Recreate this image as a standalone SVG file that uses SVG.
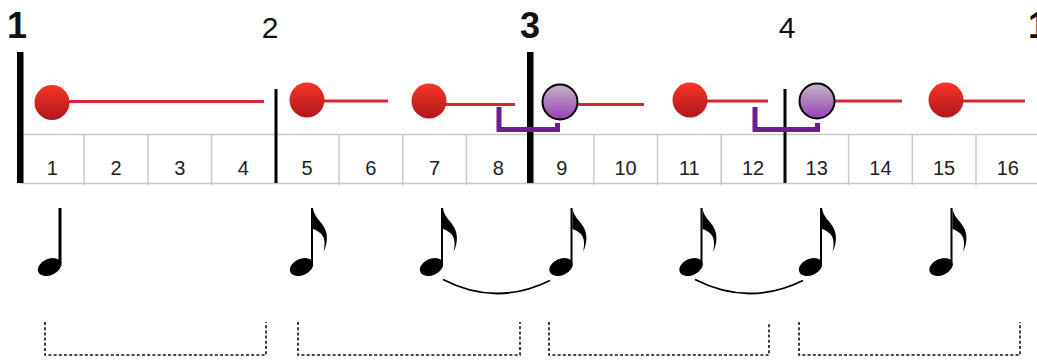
<svg xmlns="http://www.w3.org/2000/svg" xmlns:xlink="http://www.w3.org/1999/xlink" width="1037" height="361" viewBox="0 0 1037 361">
<style>
.grid{stroke:#c8c8c8;stroke-width:1.5;fill:none}
.num{font-family:"Liberation Sans",Arial,sans-serif;font-size:20px;fill:#222;text-anchor:middle}
.bar{font-family:"Liberation Sans",Arial,sans-serif;fill:#111;text-anchor:middle}
.big{font-size:36px;font-weight:bold}
.reg{font-size:30px}
.dur{stroke:#d42733;stroke-width:3;fill:none}
.tie{stroke:#6b1f8c;stroke-width:5;fill:none}
.slur{stroke:#000;stroke-width:1.8;fill:none}
.dash{stroke:#111;stroke-width:1.6;fill:none;stroke-dasharray:3 2.2}
</style>
<defs>
<linearGradient id="gr" x1="0" y1="0" x2="0" y2="1">
<stop offset="0" stop-color="#f73526"/><stop offset="1" stop-color="#b0161c"/>
</linearGradient>
<linearGradient id="gp" x1="0" y1="0" x2="0" y2="1">
<stop offset="0" stop-color="#c4b7c7"/><stop offset="1" stop-color="#9840b6"/>
</linearGradient>
<g id="eighth">
<ellipse cx="-11.5" cy="59" rx="12.2" ry="8.2" transform="rotate(-24 -11.5 59)" fill="#000"/>
<rect x="-2" y="0" width="2" height="58" fill="#000"/>
<path d="M0 0 C1 9 7 12 11 19 C15 26 15 35 10.5 44 C12.5 36 12 28 6.5 24.5 C4 22.5 2 21.5 0 21 Z" fill="#000"/>
</g>
</defs>
<rect width="1037" height="361" fill="#fff"/>

<g id="grid">
<line class="grid" x1="20" y1="134.5" x2="1037" y2="134.5"/>
<line class="grid" x1="20" y1="183.5" x2="1037" y2="183.5"/>
<path class="grid" d="M84.2 134V185M147.9 134V185M211.6 134V185M339 134V185M402.7 134V185M466.4 134V185M593.8 134V185M657.5 134V185M721.2 134V185M848.6 134V185M912.3 134V185M976 134V185"/>
</g>

<g id="counts">
<text class="num" x="52.3" y="175">1</text>
<text class="num" x="116" y="175">2</text>
<text class="num" x="179.7" y="175">3</text>
<text class="num" x="243.4" y="175">4</text>
<text class="num" x="307.1" y="175">5</text>
<text class="num" x="370.8" y="175">6</text>
<text class="num" x="434.5" y="175">7</text>
<text class="num" x="498.2" y="175">8</text>
<text class="num" x="561.9" y="175">9</text>
<text class="num" x="625.6" y="175">10</text>
<text class="num" x="689.3" y="175">11</text>
<text class="num" x="753" y="175">12</text>
<text class="num" x="816.7" y="175">13</text>
<text class="num" x="880.4" y="175">14</text>
<text class="num" x="944.1" y="175">15</text>
<text class="num" x="1007.8" y="175">16</text>
</g>

<g id="barlines">
<rect x="17" y="52" width="6.5" height="131" fill="#000"/>
<rect x="274.5" y="89" width="3" height="94" fill="#000"/>
<rect x="527" y="52" width="6.5" height="131" fill="#000"/>
<rect x="783.5" y="89" width="3" height="94" fill="#000"/>
</g>

<g id="bar-labels">
<text class="bar big" x="17" y="38">1</text>
<text class="bar reg" x="270" y="38">2</text>
<text class="bar big" x="530" y="38">3</text>
<text class="bar reg" x="787" y="38">4</text>
<text class="bar big" x="1038" y="38">1</text>
</g>

<g id="connectors">
<line class="dur" x1="52" y1="101.5" x2="264" y2="101.5"/>
<line class="dur" x1="307" y1="101" x2="388" y2="101"/>
<line class="dur" x1="429" y1="104.5" x2="515" y2="104.5"/>
<line class="dur" x1="560" y1="104.5" x2="644" y2="104.5"/>
<line class="dur" x1="690" y1="101" x2="768" y2="101"/>
<line class="dur" x1="817" y1="101" x2="902" y2="101"/>
<line class="dur" x1="946" y1="101" x2="1025" y2="101"/>
<path class="tie" d="M499 107V129.5H557.5V123"/>
<path class="tie" d="M755 107V129.5H817.5V123"/>
<path class="slur" d="M443 279.5Q496 307 550 280.5"/>
<path class="slur" d="M695 279.5Q749 307 803 280.5"/>
<path class="dash" d="M45 322V355H266V322"/>
<path class="dash" d="M298 322V355H520V322"/>
<path class="dash" d="M549 322V355H769V322"/>
<path class="dash" d="M799 322V355H1020V322"/>
</g>

<g id="ball-1"><circle cx="52" cy="102.5" r="17.5" fill="url(#gr)"/></g>
<g id="ball-5"><circle cx="307" cy="100" r="17.5" fill="url(#gr)"/></g>
<g id="ball-7"><circle cx="429" cy="101" r="17.5" fill="url(#gr)"/></g>
<g id="ball-9"><circle cx="560" cy="102" r="17.5" fill="url(#gp)" stroke="#000" stroke-width="2"/></g>
<g id="ball-11"><circle cx="690" cy="100" r="17.5" fill="url(#gr)"/></g>
<g id="ball-13"><circle cx="817" cy="101" r="17.5" fill="url(#gp)" stroke="#000" stroke-width="2"/></g>
<g id="ball-15"><circle cx="946" cy="100" r="17.5" fill="url(#gr)"/></g>

<g id="note-1">
<ellipse cx="49.5" cy="267" rx="12.2" ry="8.2" transform="rotate(-24 49.5 267)" fill="#000"/>
<rect x="58.5" y="208" width="3" height="58" fill="#000"/>
</g>
<g id="note-5"><use xlink:href="#eighth" transform="translate(313 208)"/></g>
<g id="note-7"><use xlink:href="#eighth" transform="translate(443 208)"/></g>
<g id="note-9"><use xlink:href="#eighth" transform="translate(572.5 208)"/></g>
<g id="note-11"><use xlink:href="#eighth" transform="translate(702.5 208)"/></g>
<g id="note-13"><use xlink:href="#eighth" transform="translate(822 208)"/></g>
<g id="note-15"><use xlink:href="#eighth" transform="translate(952.5 208)"/></g>
</svg>
